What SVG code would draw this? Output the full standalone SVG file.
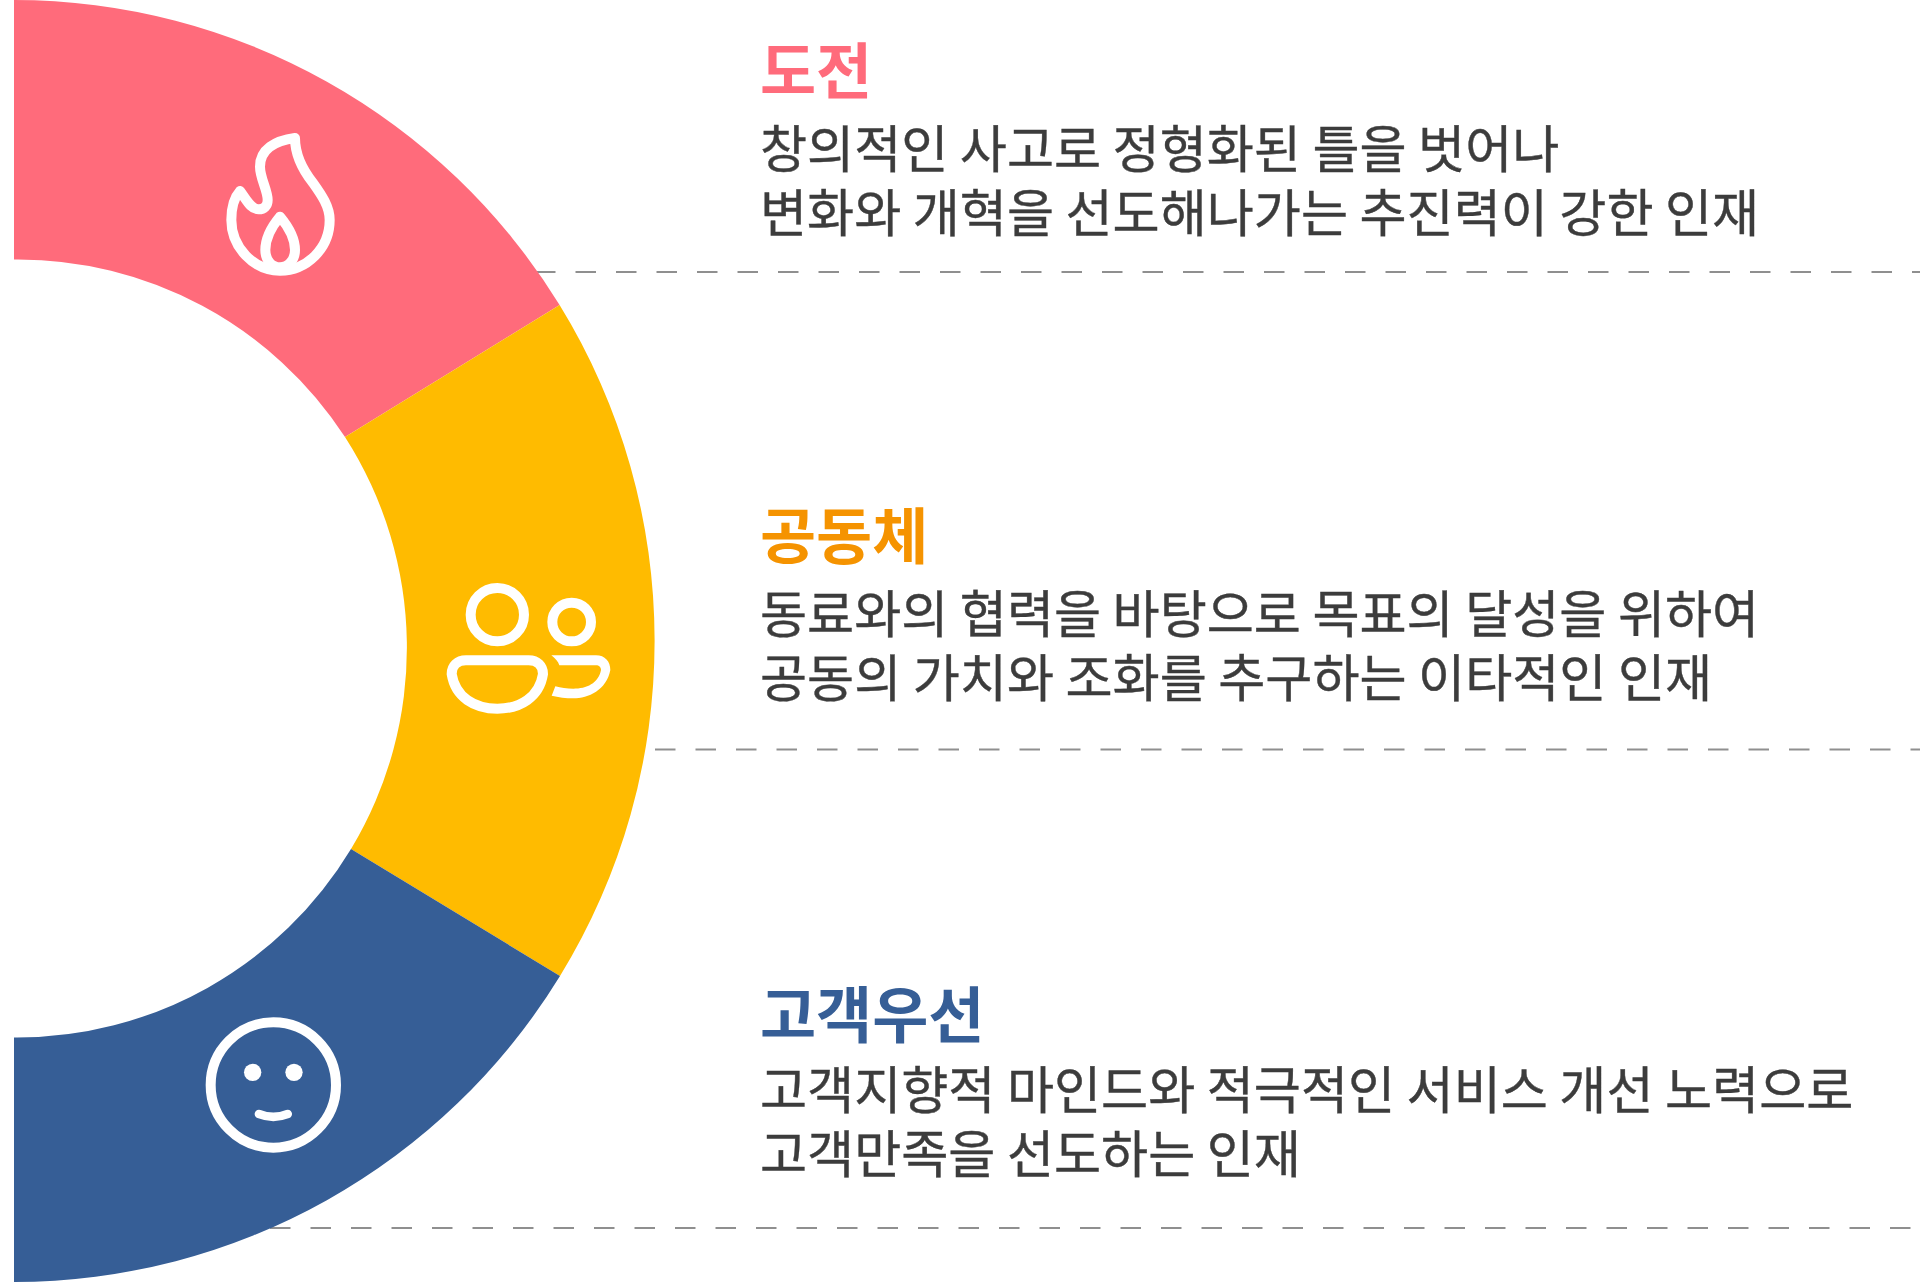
<svg xmlns="http://www.w3.org/2000/svg" width="1920" height="1282" viewBox="0 0 1920 1282">
<style>
text{font-family:"Noto Sans CJK KR","Noto Sans",sans-serif}
.t{font-size:61px;font-weight:700}
.b{font-size:51.200px;fill:#3c3c3c;stroke:#3c3c3c;stroke-width:.4px;font-weight:400}
.ic{fill:none;stroke:#fff;stroke-width:30;stroke-linejoin:round;stroke-linecap:round}
.d{stroke:#8f8f8f;stroke-width:2;stroke-dasharray:20.500 20}
</style>
<rect width="1920" height="1282" fill="#fff"/>
<g id="connectors">
<line class="d" x1="535" y1="272" x2="1920" y2="272"/>
<line class="d" x1="655" y1="749.500" x2="1920" y2="749.500"/>
<line class="d" x1="270" y1="1228" x2="1920" y2="1228"/>
</g>
<g id="ring">
<path id="seg-red" fill="#ff6b7b" d="M14,0 A641,641 0 0 1 559.600,305 L345,437 A390,390 0 0 0 14,259.500 Z"/>
<path id="seg-yellow" fill="#ffbb00" d="M559.600,305 A641,641 0 0 1 560,976 L351,849 A390,390 0 0 0 345,437 Z"/>
<path id="seg-blue" fill="#365e96" d="M560,976 A641,641 0 0 1 14,1282 L14,1037.500 A390,390 0 0 0 351,849 Z"/>
</g>
<g id="icon-flame" transform="translate(200 110) scale(.33333)">
<path class="ic" d="M285,84 C225,92 180,118 180,170 C180,205 203,240 203,270 C203,288 192,298 176,298 C152,298 140,270 120,243 C100,265 94,300 94,330 C94,410 160,482 240,482 C320,482 389,415 389,330 C389,290 365,255 340,220 C312,185 285,140 285,84 Z"/>
<path class="ic" d="M240,320 C215,350 196,385 196,420 C196,450 215,472 240,472 C265,472 285,450 285,420 C285,385 265,350 240,320 Z"/>
</g>
<g id="icon-people" transform="translate(430 560) scale(.33333)">
<circle class="ic" cx="202" cy="164" r="80"/>
<circle class="ic" cx="425" cy="186" r="58"/>
<path class="ic" d="M108,301 H296 C322,301 339,318 339,342 C328,412 270,446 202,446 C134,446 76,412 65,342 C65,318 82,301 108,301 Z"/>
<path fill="#fff" d="M364,286 H498 C525,286 541,305 541,330 C530,390 475,415 430,415 C408,415 385,412 365,407 L376,379 C393,384 410,386 430,386 C470,386 505,370 513,330 C513,322 507,316 498,316 H388 C385,305 375,295 364,286 Z"/>
</g>
<g id="icon-face" transform="translate(190 1000) scale(.33333)">
<circle class="ic" cx="250" cy="255" r="188"/>
<circle fill="#fff" cx="188" cy="217" r="26"/>
<circle fill="#fff" cx="312" cy="217" r="26"/>
<path class="ic" style="stroke-width:26" d="M207,342 C235,353 265,353 293,342"/>
</g>
<g id="node-1">
<text class="t" x="760" y="94" fill="#ff6b7b">도전</text>
<text class="b" x="760" y="167.500">창의적인 사고로 정형화된 틀을 벗어나</text>
<text class="b" x="760" y="231.500">변화와 개혁을 선도해나가는 추진력이 강한 인재</text>
</g>
<g id="node-2">
<text class="t" x="760" y="558.500" fill="#f59300">공동체</text>
<text class="b" x="760" y="633">동료와의 협력을 바탕으로 목표의 달성을 위하여</text>
<text class="b" x="760" y="697">공동의 가치와 조화를 추구하는 이타적인 인재</text>
</g>
<g id="node-3">
<text class="t" x="760" y="1038" fill="#365e96">고객우선</text>
<text class="b" x="760" y="1109">고객지향적 마인드와 적극적인 서비스 개선 노력으로</text>
<text class="b" x="760" y="1173">고객만족을 선도하는 인재</text>
</g>
</svg>
